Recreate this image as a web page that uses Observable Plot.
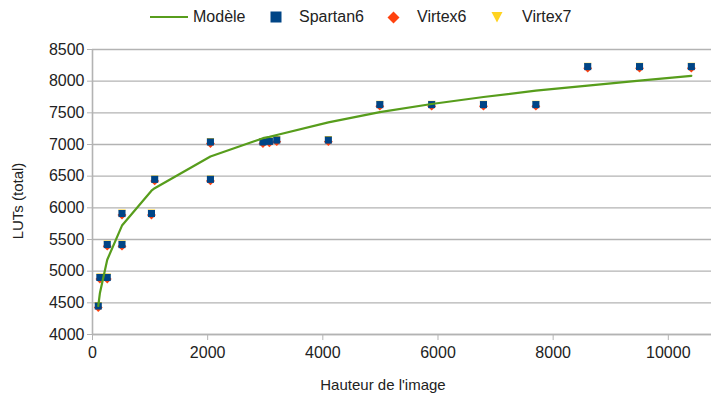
<!DOCTYPE html>
<html>
<head>
<meta charset="utf-8">
<script src="https://cdn.jsdelivr.net/npm/d3@7"></script>
<script src="https://cdn.jsdelivr.net/npm/@observablehq/plot@0.6"></script>
<style>
  html, body { margin: 0; padding: 0; background: #fff; }
  body { width: 713px; height: 400px; overflow: hidden; font-family: "Liberation Sans", Arial, sans-serif; }
  #legend { position: relative; height: 34px; width: 713px; font-size: 16px; color: #222; }
  #legend .item { position: absolute; top: 0; height: 34px; display: flex; align-items: center; }
  #legend svg { display: block; }
</style>
</head>
<body>
<div id="legend"></div>
<div id="chart"></div>
<script>
// ---- data ----
const seriesNames = ["Modèle", "Spartan6", "Virtex6", "Virtex7"];
const colors = ["#579d1c", "#004586", "#ff420e", "#ffd320"];

// Image heights (x) for the measured points
const pointX = [100, 128, 256, 256, 512, 512, 1024, 1080, 2048, 2048, 2960, 3072, 3200, 4096, 4990, 5890, 6790, 7700, 8600, 9500, 10400];
const spartan6 = [4450, 4900, 4900, 5420, 5420, 5910, 5910, 6450, 6450, 7040, 7040, 7050, 7070, 7070, 7630, 7630, 7630, 7630, 8230, 8230, 8230];
const virtex6  = [4425, 4875, 4875, 5395, 5395, 5885, 5885, 6425, 6425, 7015, 7015, 7025, 7045, 7045, 7605, 7605, 7605, 7605, 8205, 8205, 8205];
const virtex7  = [4455, 4905, 4905, 5425, 5425, 5915, 5915, 6455, 6455, 7045, 7045, 7055, 7075, 7075, 7635, 7635, 7635, 7635, 8235, 8235, 8235];

// Model curve
const modelX = [100, 128, 256, 512, 1024, 1080, 2048, 2960, 3072, 3200, 4096, 4990, 5890, 6790, 7700, 8600, 9500, 10400];
const modelY = [4450, 4650, 5180, 5720, 6270, 6310, 6810, 7100, 7120, 7150, 7350, 7510, 7640, 7750, 7850, 7930, 8010, 8085];

const xTicks = [0, 2000, 4000, 6000, 8000, 10000];
const yTicks = [4000, 4500, 5000, 5500, 6000, 6500, 7000, 7500, 8000, 8500];
const xLabel = "Hauteur de l'image";
const yLabel = "LUTs (total)";

// ---- build tables ----
const model = modelX.map((x, i) => ({x, y: modelY[i]}));
const pts = (arr) => pointX.map((x, i) => ({x, y: arr[i]}));

const triangleDown = {
  draw(context, size) {
    const h = Math.sqrt(size) / 2 * 1.08;
    context.moveTo(-h, -h * 0.95);
    context.lineTo(h, -h * 0.95);
    context.lineTo(0, h * 1.05);
    context.closePath();
  }
};

const grey = "#b3b3b3";
const fmt = d3.format("d");

const chart = Plot.plot({
  width: 713,
  height: 366,
  marginLeft: 92,
  marginRight: 2,
  marginTop: 15,
  marginBottom: 66,
  style: {fontFamily: "Liberation Sans, Arial, sans-serif", fontSize: "16px", background: "#fff"},
  x: {domain: [0, 10750], ticks: xTicks, label: null},
  y: {domain: [4000, 8500], ticks: yTicks, label: null},
  marks: [
    Plot.gridY(yTicks, {stroke: grey, strokeOpacity: 1, strokeWidth: 1.3}),
    Plot.ruleX([0], {stroke: grey, strokeWidth: 1.6}),
    Plot.ruleY([4000], {stroke: grey, strokeWidth: 1.6}),
    Plot.axisY(yTicks, {tickSize: 5, tickPadding: 3, stroke: grey, fill: "#222", label: null, fontSize: 16, tickFormat: fmt}),
    Plot.axisX(xTicks, {tickSize: 6, tickPadding: 6, stroke: grey, fill: "#222", label: null, fontSize: 16, tickFormat: fmt}),
    Plot.dot(pts(virtex7), {x: "x", y: "y", symbol: triangleDown, r: 4.0, fill: colors[3], stroke: null}),
    Plot.dot(pts(virtex6), {x: "x", y: "y", symbol: "diamond2", r: 4.0, fill: colors[2], stroke: null}),
    Plot.dot(pts(spartan6), {x: "x", y: "y", symbol: "square", r: 4.0, fill: colors[1], stroke: null}),
    Plot.line(model, {x: "x", y: "y", stroke: colors[0], strokeWidth: 2.2})
  ]
});

const svg = d3.select(chart.tagName.toLowerCase() === "svg" ? chart : chart.querySelector("svg"));
svg.append("text")
  .attr("transform", "translate(19,167) rotate(-90)")
  .attr("text-anchor", "middle")
  .attr("dominant-baseline", "middle")
  .attr("fill", "#222")
  .style("font-size", "15px")
  .text(yLabel);
svg.append("text")
  .attr("x", 383)
  .attr("y", 356)
  .attr("text-anchor", "middle")
  .attr("fill", "#222")
  .style("font-size", "15px")
  .text(xLabel);

document.getElementById("chart").appendChild(chart);

// ---- legend ----
const legend = document.getElementById("legend");
const legendItems = [
  {name: seriesNames[0], color: colors[0], kind: "line", left: 150},
  {name: seriesNames[1], color: colors[1], kind: "square", left: 270},
  {name: seriesNames[2], color: colors[2], kind: "diamond", left: 387},
  {name: seriesNames[3], color: colors[3], kind: "tri", left: 491}
];
const gaps = {line: 5, square: 17, diamond: 17, tri: 19};
for (const it of legendItems) {
  const div = document.createElement("div");
  div.className = "item";
  div.style.left = it.left + "px";
  let sym;
  if (it.kind === "line") {
    sym = `<svg width="38" height="12"><line x1="0" x2="38" y1="6" y2="6" stroke="${it.color}" stroke-width="2.2"/></svg>`;
  } else if (it.kind === "square") {
    sym = `<svg width="12" height="12"><rect x="0.5" y="0.5" width="11" height="11" fill="${it.color}"/></svg>`;
  } else if (it.kind === "diamond") {
    sym = `<svg width="13" height="13"><path d="M6.5,0.5L12.5,6.5L6.5,12.5L0.5,6.5Z" fill="${it.color}"/></svg>`;
  } else {
    sym = `<svg width="12" height="12"><path d="M0.5,1L11.5,1L6,11.5Z" fill="${it.color}"/></svg>`;
  }
  div.innerHTML = sym + `<span style="margin-left:${gaps[it.kind]}px">${it.name}</span>`;
  legend.appendChild(div);
}
</script>
</body>
</html>
